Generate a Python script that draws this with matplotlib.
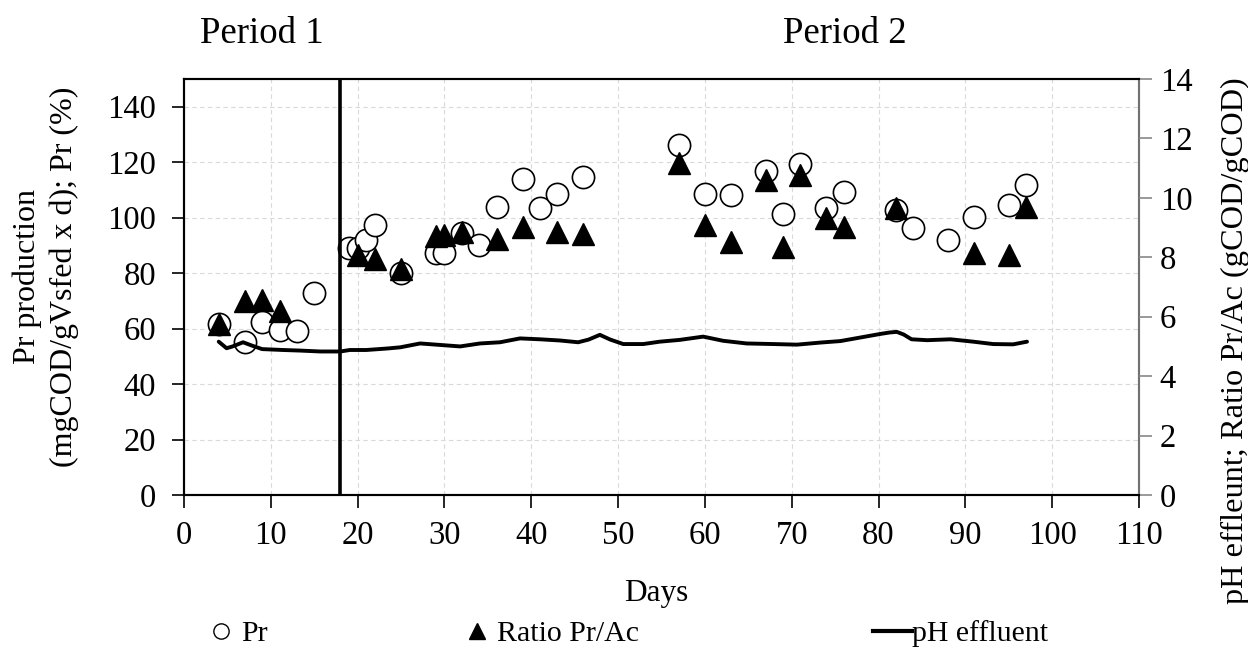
import matplotlib
matplotlib.use("Agg")
import matplotlib.pyplot as plt
from matplotlib.lines import Line2D

plt.rcParams['font.family'] = ['Liberation Serif', 'DejaVu Serif']

# Pr (left axis)
prDays = [4, 7, 9, 11, 13, 15, 19, 20, 21, 22, 25, 29, 30, 32, 34, 36, 39, 41, 43, 46,
          57, 60, 63, 67, 69, 71, 74, 76, 82, 84, 88, 91, 95, 97]
prValues = [61.5, 55.1, 62.3, 59.4, 59.0, 73.0, 88.9, 89.2, 92.1, 97.5, 80.2, 87.1, 87.4, 94.3,
            90.3, 104.0, 114.1, 103.6, 108.7, 114.8, 126.3, 108.7, 108.3, 116.9, 101.5, 119.5,
            103.6, 109.4, 102.6, 96.1, 92.1, 100.4, 104.7, 111.6]

# Ratio Pr/Ac (right axis)
ratioDays = [4, 7, 9, 11, 20, 22, 25, 29, 30, 32, 36, 39, 43, 46,
             57, 60, 63, 67, 69, 71, 74, 76, 82, 91, 95, 97]
ratioValues = [5.76, 6.53, 6.56, 6.19, 8.08, 7.94, 7.61, 8.72, 8.75, 8.85, 8.62, 9.02, 8.85, 8.78,
               11.17, 9.09, 8.51, 10.6, 8.35, 10.77, 9.32, 9.02, 9.66, 8.15, 8.08, 9.69]

# pH effluent (right axis)
phDays = [4.0, 4.9, 5.6, 6.8, 7.9, 9.0, 11.4, 13.4, 15.7, 18.0, 19.1, 21.0, 23.4, 24.9, 27.2,
          29.5, 31.8, 34.1, 36.4, 38.7, 41.0, 43.3, 45.4, 46.6, 47.9, 49.1, 50.6, 52.9, 54.8,
          57.1, 59.8, 62.1, 64.8, 67.9, 70.6, 73.3, 75.6, 77.9, 80.2, 81.3, 82.1, 82.9, 83.8,
          85.6, 88.3, 90.9, 93.2, 95.5, 97.1]
phValues = [5.16, 4.94, 5.00, 5.14, 5.02, 4.91, 4.88, 4.86, 4.83, 4.83, 4.88, 4.88, 4.93, 4.97,
            5.10, 5.05, 5.00, 5.10, 5.14, 5.27, 5.24, 5.20, 5.14, 5.23, 5.39, 5.23, 5.08, 5.08,
            5.16, 5.22, 5.33, 5.19, 5.10, 5.08, 5.06, 5.13, 5.18, 5.30, 5.42, 5.47, 5.49, 5.40,
            5.24, 5.21, 5.24, 5.16, 5.08, 5.07, 5.16]

periodSplit = 18

fig = plt.figure(figsize=(12.48, 6.62), dpi=100)
ax = fig.add_axes([184/1248, 1-495/662, (1139-184)/1248, (495-79)/662])
ax2 = ax.twinx()

ax.set_xlim(0, 110)
ax.set_ylim(0, 150)
ax.set_xticks(range(0, 111, 10))
ax.set_yticks(range(0, 141, 20))
ax.grid(True, color='#d9d9d9', linestyle=(0, (4, 3)), linewidth=0.8)
ax.set_axisbelow(True)

ax.plot(prDays, prValues, linestyle='none', marker='o', markersize=16,
        markerfacecolor='white', markeredgecolor='black', markeredgewidth=1.2, zorder=3)
ax.axvline(periodSplit, color='black', linewidth=2.6, zorder=4)

ax2.set_ylim(0, 14)
ax2.set_yticks(range(0, 15, 2))
ax2.plot(phDays, phValues, color='black', linewidth=2.8, solid_capstyle='round',
         solid_joinstyle='round', zorder=2)
ax2.plot(ratioDays, ratioValues, linestyle='none', marker='^', markersize=16,
         markerfacecolor='black', markeredgecolor='black', zorder=3)

for a in (ax, ax2):
    for s in a.spines.values():
        s.set_linewidth(1.5)
        s.set_color('black')
ax2.spines['right'].set_color('#888888')
ax2.spines['right'].set_linewidth(1.2)

ax.tick_params(axis='both', labelsize=23.5, direction='out', length=9, width=1.2)
ax.tick_params(axis='y', pad=11)
ax.tick_params(axis='x', pad=9)
ax2.tick_params(axis='y', labelsize=23.5, direction='out', length=9, width=1.2,
                color='#888888', pad=6)

fig.text(262/1248, 1-34/662, 'Period 1', fontsize=26.5, ha='center', va='center')
fig.text(845/1248, 1-34/662, 'Period 2', fontsize=26.5, ha='center', va='center')
fig.text(656/1248, 1-594/662, 'Days', fontsize=22.5, ha='center', va='center')
fig.text(46/1248, 1-277/662, 'Pr production\n(mgCOD/gVsfed x d); Pr (%)', fontsize=23,
         ha='center', va='center', rotation=90, linespacing=1.35, multialignment='center')
fig.text(1235/1248, 1-341/662, 'pH effleunt; Ratio Pr/Ac (gCOD/gCOD)', fontsize=23.3,
         ha='center', va='center', rotation=90)

# legend entries placed one by one
entries = [
    (Line2D([], [], linestyle='none', marker='o', markersize=11, markerfacecolor='white',
            markeredgecolor='black', markeredgewidth=1.0), 'Pr', 211, 0.7, 0.3),
    (Line2D([], [], linestyle='none', marker='^', markersize=12, color='black'),
     'Ratio Pr/Ac', 467, 0.7, 0.3),
    (Line2D([], [], color='black', linewidth=3), 'pH effluent', 873, 1.3, 0.0),
]
for h, lab, xpx, hl, htp in entries:
    fig.legend([h], [lab], loc='center left', bbox_to_anchor=(xpx/1248, 1-634/662),
               frameon=False, fontsize=21.5, handlelength=hl, handletextpad=htp,
               borderpad=0, borderaxespad=0)

fig.savefig('out.png', dpi=100)
